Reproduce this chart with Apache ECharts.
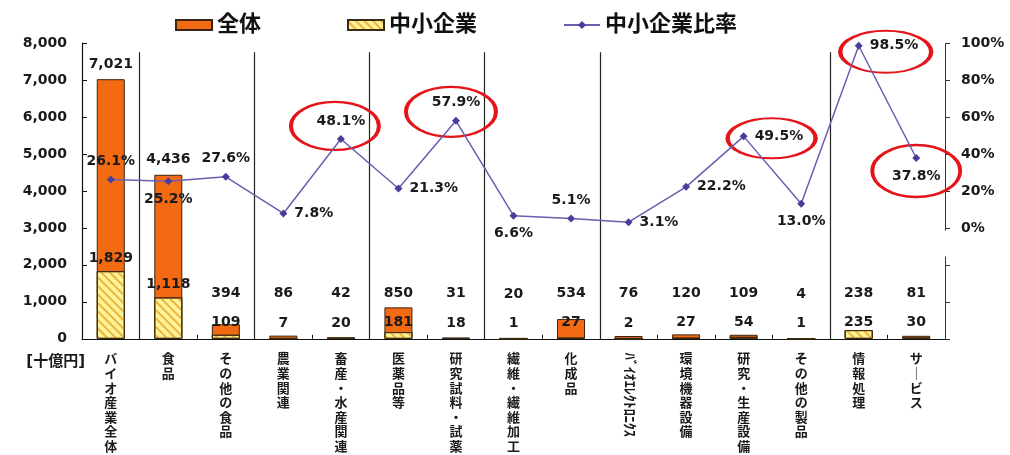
<!DOCTYPE html>
<html>
<head>
<meta charset="utf-8">
<script src="https://cdn.jsdelivr.net/npm/echarts@6/dist/echarts.min.js"></script>
<style>html,body{margin:0;padding:0;background:#fff;}#chart{width:1010px;height:455px;}</style>
</head>
<body>
<div id="chart"></div>
<script>
// ---- data ----
const categories = ['バイオ産業全体','食品','その他の食品','農業関連','畜産・水産関連','医薬品等','研究試料・試薬','繊維・繊維加工','化成品','ﾊﾞｲｵｴﾚｸﾄﾛﾆｸｽ','環境機器設備','研究・生産設備','その他の製品','情報処理','サービス'];
const totalValues = [7021, 4436, 394, 86, 42, 850, 31, 20, 534, 76, 120, 109, 4, 238, 81];
const smeValues = [1829, 1118, 109, 7, 20, 181, 18, 1, 27, 2, 27, 54, 1, 235, 30];
const smeRatio = [26.1, 25.2, 27.6, 7.8, 48.1, 21.3, 57.9, 6.6, 5.1, 3.1, 22.2, 49.5, 13.0, 98.5, 37.8];
const seriesNames = ['全体', '中小企業', '中小企業比率'];
const leftTicks = {min: 0, max: 8000, interval: 1000};
const rightTicks = {min: -60, max: 100, interval: 20};
const unitLabel = '[十億円]';
// group separators sit after these category indices
const separatorsAfter = [0, 2, 4, 6, 8, 12];
// highlighted ratio points (red ellipses)
const highlighted = [4, 6, 11, 13, 14];

// ---- layout/style (not data) ----
const ratioLabelPos = ['top','bottom','top','right','top','right','top','bottom','top','right','right','right','bottom','right','bottom'];
const ellipseStyle = {
  4: {offset: [-6, -13], size: [88, 48]},
  6: {offset: [-5, -9], size: [90, 50]},
  11: {offset: [28, 2], size: [88, 40]},
  13: {offset: [27, 6], size: [91, 42]},
  14: {offset: [0, 13], size: [88, 52]}
};
const FONT = '"DejaVu Sans", "Noto Sans CJK JP", sans-serif';
const labelFont = {fontFamily: FONT, fontSize: 14, fontWeight: 'bold', color: '#1a1a1a'};

const fmtNum = v => Number(v).toLocaleString('en-US');
const verticalText = s => s.replace(/ー/g, '｜').split('').join('\n');

const totalData = totalValues.map(v => ({
  value: v,
  label: v >= 1000 ? {position: 'top', distance: 8} : {position: 'insideBottom', distance: 5, offset: [0, -33]}
}));
const smeData = smeValues.map(v => ({
  value: v,
  label: v >= 1000 ? {position: 'top', distance: 6} : {position: 'insideBottom', distance: 5, offset: [0, -4]}
}));
const ratioData = smeRatio.map((v, i) => ({value: v, label: {position: ratioLabelPos[i]}}));

const sepLines = separatorsAfter.map(i => [{coord: [i + 1, 0]}, {coord: [i + 1, 7750]}]);
// right axis line is drawn in two pieces (gap just below 0%)
const n = categories.length;
const rightAxisPieces = [
  [{coord: [n, rightTicks.max]}, {coord: [n, -1.5]}],
  [{coord: [n, -15.5]}, {coord: [n, rightTicks.min]}]
];
const ellipsePath = 'path://M100,50A50,25,0,1,1,0,50A50,25,0,1,1,100,50Z';
const ellipseMarks = highlighted.map(i => ({
  coord: [i, smeRatio[i]],
  symbol: ellipsePath,
  symbolSize: ellipseStyle[i].size,
  symbolOffset: ellipseStyle[i].offset
}));

const chart = echarts.init(document.getElementById('chart'), null, {renderer: 'canvas'});
chart.setOption({
  backgroundColor: '#ffffff',
  animation: false,
  textStyle: {fontFamily: FONT},
  legend: {
    left: 170, top: 9,
    itemWidth: 36, itemHeight: 10, itemGap: 86,
    textStyle: {fontFamily: FONT, fontSize: 22, fontWeight: 'bold', color: '#111'},
    data: [
      {name: seriesNames[0], icon: 'rect'},
      {name: seriesNames[1], icon: 'rect'},
      {name: seriesNames[2]}
    ]
  },
  grid: {left: 82, right: 65, top: 43, bottom: 115, containLabel: false},
  xAxis: [
    {
      type: 'category', data: categories, position: 'bottom',
      axisLine: {lineStyle: {color: '#111', width: 1.2}},
      axisTick: {show: true, inside: true, length: 4, lineStyle: {color: '#111'}},
      axisLabel: {
        interval: 0, margin: 14, lineHeight: 14.6,
        fontFamily: FONT, fontSize: 13, fontWeight: 'bold', color: '#1a1a1a',
        verticalAlign: 'top',
        formatter: (v, i) => i === 9 ? '' : verticalText(v)
      }
    },
    {
      type: 'category', data: categories, position: 'bottom', offset: 0,
      axisLine: {show: false}, axisTick: {show: false}, splitLine: {show: false},
      axisLabel: {
        interval: 0, margin: 14, rotate: -90,
        fontFamily: FONT, fontSize: 14, fontWeight: 'bold', color: '#1a1a1a',
        formatter: (v, i) => i === 9 ? v : ''
      }
    },
    {type: 'value', min: 0, max: categories.length, show: false}
  ],
  yAxis: [
    {
      type: 'value', min: leftTicks.min, max: leftTicks.max, interval: leftTicks.interval,
      position: 'left',
      name: unitLabel, nameLocation: 'start', nameGap: 16,
      nameTextStyle: {fontFamily: FONT, fontSize: 15, fontWeight: 'bold', color: '#1a1a1a', align: 'right', verticalAlign: 'top', padding: [0, -3, 0, 0]},
      axisLine: {show: true, lineStyle: {color: '#111', width: 1.2}},
      axisTick: {show: true, inside: true, length: 5, lineStyle: {color: '#111'}},
      splitLine: {show: false},
      axisLabel: {margin: 15, fontFamily: FONT, fontSize: 14, fontWeight: 'bold', color: '#1a1a1a', formatter: v => fmtNum(v)}
    },
    {
      type: 'value', min: rightTicks.min, max: rightTicks.max, interval: rightTicks.interval,
      position: 'right',
      axisLine: {show: false},
      axisTick: {show: true, inside: false, length: 5, lineStyle: {color: '#333'}},
      splitLine: {show: false},
      axisLabel: {margin: 16, fontFamily: FONT, fontSize: 14, fontWeight: 'bold', color: '#1a1a1a', formatter: v => v >= 0 ? v + '%' : ''}
    }
  ],
  series: [
    {
      name: seriesNames[0], type: 'bar', xAxisIndex: 0, yAxisIndex: 0,
      data: totalData, barWidth: 28, barGap: '-100%', z: 2,
      itemStyle: {color: '#F26A12', borderColor: '#3a2410', borderWidth: 1},
      label: Object.assign({show: true, formatter: p => fmtNum(p.value)}, labelFont)
    },
    {
      name: seriesNames[1], type: 'bar', xAxisIndex: 0, yAxisIndex: 0,
      data: smeData, barWidth: 28, barGap: '-100%', z: 3,
      itemStyle: {
        color: '#FFF39A', borderColor: '#3a2a10', borderWidth: 1,
        decal: {symbol: 'rect', symbolSize: 1, dashArrayX: [1, 0], dashArrayY: [2, 4], rotation: Math.PI / 4, color: 'rgba(235,170,40,0.85)'}
      },
      label: Object.assign({show: true, formatter: p => fmtNum(p.value)}, labelFont)
    },
    {
      name: seriesNames[2], type: 'line', xAxisIndex: 0, yAxisIndex: 1,
      data: ratioData, z: 5,
      symbol: 'diamond', symbolSize: 8,
      lineStyle: {color: '#6B5DB0', width: 1.5},
      itemStyle: {color: '#4A3C9C'},
      label: Object.assign({show: true, distance: 7, formatter: p => p.value.toFixed(1) + '%'}, labelFont),
      markPoint: {
        silent: true,
        label: {show: false},
        itemStyle: {color: 'rgba(0,0,0,0)', borderColor: '#E4141A', borderWidth: 3},
        data: ellipseMarks
      }
    },
    {
      name: 'sep', type: 'line', xAxisIndex: 2, yAxisIndex: 0,
      data: [[0, 0]], showSymbol: false, symbol: 'none', lineStyle: {opacity: 0},
      silent: true, z: 1,
      markLine: {
        silent: true, symbol: ['none', 'none'], label: {show: false},
        lineStyle: {color: '#222', width: 1.2, type: 'solid'},
        data: sepLines
      }
    },
    {
      name: 'raxis', type: 'line', xAxisIndex: 2, yAxisIndex: 1,
      data: [[0, 0]], showSymbol: false, symbol: 'none', lineStyle: {opacity: 0},
      silent: true, z: 1,
      markLine: {
        silent: true, symbol: ['none', 'none'], label: {show: false},
        lineStyle: {color: '#333', width: 1, type: 'solid'},
        data: rightAxisPieces
      }
    }
  ]
});
</script>
</body>
</html>
